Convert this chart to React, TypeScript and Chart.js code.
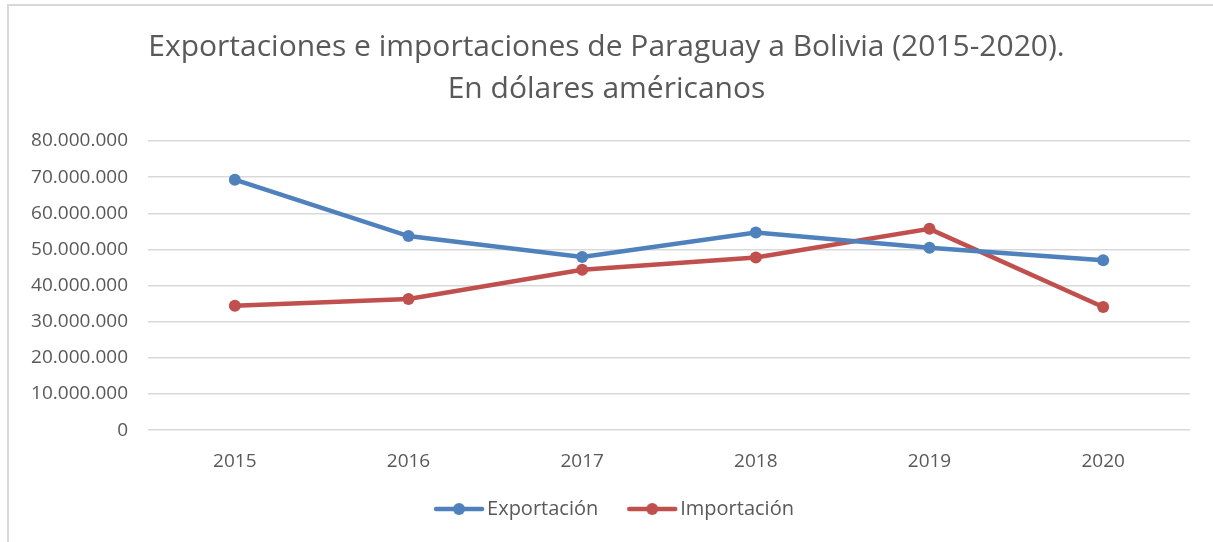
import React, { useEffect, useRef } from "react";
import { Chart, registerables } from "chart.js";

Chart.register(...registerables);

const years = ["2015", "2016", "2017", "2018", "2019", "2020"];
const exportaciones = [69300000, 53700000, 47900000, 54700000, 50500000, 47000000];
const importaciones = [34400000, 36300000, 44400000, 47800000, 55700000, 34100000];
const titleLines = [
  "Exportaciones e importaciones de Paraguay a Bolivia (2015-2020).",
  "En dólares américanos",
];
const seriesNames = ["Exportación", "Importación"];

const BLUE = "#4F81BD";
const RED = "#C0504D";
const TEXT = "#595959";
const GRID = "#D9D9D9";
const FONT = "'Open Sans', 'Noto Sans', sans-serif";

// legend marker: transparent left part, visible line+dot on the right 52px
const MARKER_BOX = 58;
const MARKER_IMG = 74;

function makeMarker(color: string): HTMLCanvasElement {
  const c = document.createElement("canvas");
  c.width = MARKER_IMG;
  c.height = 14;
  const ctx = c.getContext("2d")!;
  const x0 = MARKER_IMG - 52;
  ctx.strokeStyle = color;
  ctx.lineWidth = 4.5;
  ctx.lineCap = "round";
  ctx.beginPath();
  ctx.moveTo(x0 + 3, 7);
  ctx.lineTo(MARKER_IMG - 3, 7);
  ctx.stroke();
  ctx.fillStyle = color;
  ctx.beginPath();
  ctx.arc(x0 + 26, 7, 6, 0, Math.PI * 2);
  ctx.fill();
  return c;
}

function fmt(v: number): string {
  return String(Math.round(v)).replace(/\B(?=(\d{3})+(?!\d))/g, ".");
}

export default function App() {
  const ref = useRef<HTMLCanvasElement | null>(null);

  useEffect(() => {
    if (!ref.current) return;
    const markers = [makeMarker(BLUE), makeMarker(RED)];
    const chart = new Chart(ref.current, {
      type: "line",
      data: {
        labels: years,
        datasets: [
          {
            label: seriesNames[0],
            data: exportaciones,
            borderColor: BLUE,
            backgroundColor: BLUE,
            borderWidth: 4.5,
            pointRadius: 6,
            pointBackgroundColor: BLUE,
            pointBorderWidth: 0,
            tension: 0,
          },
          {
            label: seriesNames[1],
            data: importaciones,
            borderColor: RED,
            backgroundColor: RED,
            borderWidth: 4.5,
            pointRadius: 6,
            pointBackgroundColor: RED,
            pointBorderWidth: 0,
            tension: 0,
          },
        ],
      },
      options: {
        animation: false,
        responsive: false,
        layout: { padding: { left: 23, right: 23, top: 0, bottom: 13 } },
        plugins: {
          title: {
            display: true,
            text: titleLines,
            color: TEXT,
            font: { family: FONT, size: 30, weight: "normal", lineHeight: 1.4 },
            padding: { top: 26, bottom: 31 },
          },
          legend: {
            position: "bottom",
            labels: {
              color: TEXT,
              font: { family: FONT, size: 20 },
              usePointStyle: true,
              pointStyleWidth: MARKER_BOX,
              boxHeight: 14,
              padding: 14,
              generateLabels: (ch: any) =>
                ch.data.datasets.map((ds: any, i: number) => ({
                  text: ds.label,
                  fillStyle: ds.borderColor,
                  strokeStyle: ds.borderColor,
                  fontColor: TEXT,
                  pointStyle: markers[i],
                  lineWidth: 0,
                  hidden: false,
                  datasetIndex: i,
                })),
            },
          },
          tooltip: { enabled: false },
        },
        scales: {
          x: {
            offset: true,
            grid: { display: false },
            border: { display: false },
            ticks: { color: TEXT, font: { family: FONT, size: 19 }, padding: 12 },
          },
          y: {
            min: 0,
            max: 80000000,
            afterFit: (s: any) => {
              s.width = 125;
            },
            grid: { color: GRID, lineWidth: 1.5, drawTicks: false },
            border: { display: false },
            ticks: {
              stepSize: 10000000,
              color: TEXT,
              font: { family: FONT, size: 19 },
              padding: 20,
              callback: (v: any) => fmt(Number(v)),
            },
          },
        },
      },
    });
    return () => chart.destroy();
  }, []);

  return (
    <div style={{ position: "absolute", left: 0, top: 0, width: 1213, height: 542, background: "#fff" }}>
      <div
        style={{
          position: "absolute",
          left: 7,
          top: 4,
          width: 1213,
          height: 542,
          borderLeft: `2px solid ${GRID}`,
          borderTop: `2px solid ${GRID}`,
          boxSizing: "border-box",
        }}
      />
      <canvas ref={ref} width={1213} height={542} style={{ position: "absolute", left: 0, top: 0 }} />
    </div>
  );
}
